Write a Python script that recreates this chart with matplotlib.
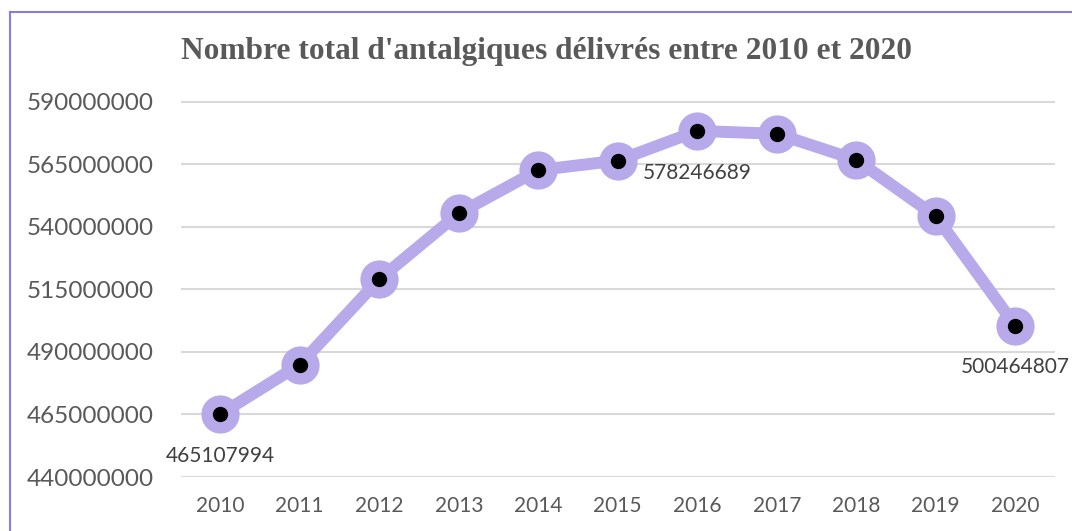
import matplotlib
matplotlib.use("Agg")
import matplotlib.pyplot as plt
from matplotlib.lines import Line2D

years = ["2010", "2011", "2012", "2013", "2014", "2015", "2016", "2017", "2018", "2019", "2020"]
values = [465107994, 484900000, 519000000, 545300000, 562600000, 566400000,
          578246689, 577100000, 566700000, 544200000, 500464807]
labeled_idx = [0, 6, 10]
yticks = [440000000, 465000000, 490000000, 515000000, 540000000, 565000000, 590000000]
title = "Nombre total d'antalgiques délivrés entre 2010 et 2020"

W, H, DPI = 1072, 531, 100
fig = plt.figure(figsize=(W / DPI, H / DPI), dpi=DPI)
ax = fig.add_axes([180.5 / W, 54 / H, (1055 - 180.5) / W, (477 - 101.5) / H])

x = list(range(len(years)))
line_col = "#B7A9EA"
ax.plot(x, values, color=line_col, lw=8.6, solid_capstyle="round", zorder=3)
ax.plot(x, values, ls="none", marker="o", ms=26.5, mfc=line_col, mec=line_col, zorder=4)
ax.plot(x, values, ls="none", marker="o", ms=10, mfc="black", mec="black", zorder=5)

for i in labeled_idx:
    ax.annotate(str(values[i]), (x[i], values[i]), xytext=(0, -30), textcoords="offset points",
                ha="center", va="center", fontsize=15, family="Lato", color="#404040", zorder=6)

ax.set_xlim(-0.5, len(years) - 0.5)
ax.set_ylim(yticks[0], yticks[-1])
ax.set_yticks(yticks)
ax.set_yticklabels([str(v) for v in yticks], family="Lato", fontsize=17.5, color="#595959")
ax.set_xticks(x)
ax.set_xticklabels(years, family="Lato", fontsize=15, color="#595959")
ax.tick_params(axis="y", length=0, pad=19)
ax.tick_params(axis="x", length=0, pad=14)
ax.grid(axis="y", color="#D9D9D9", lw=1.5)
ax.set_axisbelow(True)
for s in ax.spines.values():
    s.set_visible(False)

fig.text(546.5 / W, 1 - 51 / H, title, ha="center", va="center", family="Liberation Serif",
         fontweight="bold", fontsize=22.6, color="#595959")

border = "#8C7BDD"
fig.add_artist(Line2D([10 / W, 1.0], [1 - 12 / H, 1 - 12 / H], transform=fig.transFigure, color=border, lw=1.5))
fig.add_artist(Line2D([10 / W, 10 / W], [0, 1 - 12 / H], transform=fig.transFigure, color=border, lw=1.5))

fig.savefig("out.png", dpi=DPI, facecolor="white")
